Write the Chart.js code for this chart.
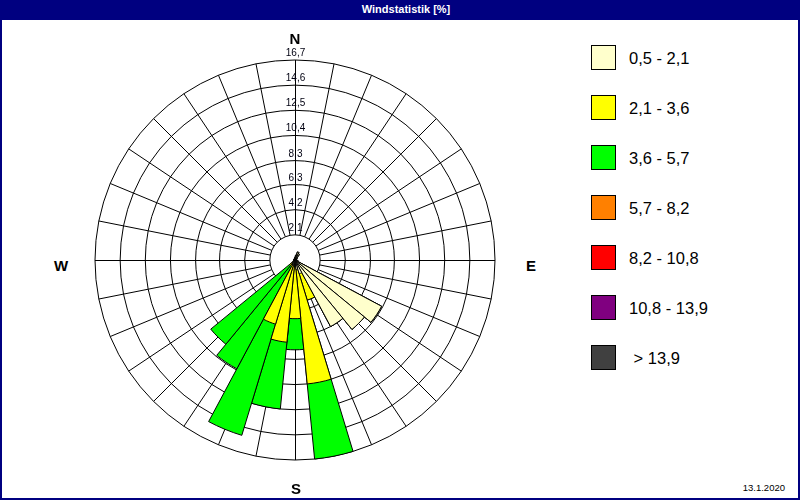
<!DOCTYPE html>
<html>
<head>
<meta charset="utf-8">
<script src="https://cdn.jsdelivr.net/npm/chart.js@4.4.1/dist/chart.umd.min.js"></script>
<style>
  html, body { margin: 0; padding: 0; background: #fff; }
  body { position: relative; width: 800px; height: 500px; overflow: hidden; font-family: "Liberation Sans", Arial, sans-serif; }
  #frame { position: absolute; left: 0; top: 0; width: 796px; height: 478px; border: 2px solid #000080; border-top: 20px solid #000080; background: #fff; }
  #title { position: absolute; left: 0; top: 0; width: 800px; height: 20px; line-height: 19px; color: #fff; font-weight: bold; font-size: 11px; text-align: center; padding-left: 12px; box-sizing: border-box; }
  #chartCanvas { position: absolute; left: 85px; top: 50px; }
  .tick { position: absolute; font-size: 10px; line-height: 11px; color: #000011; transform: translateX(-50%); white-space: nowrap; }
  .dir { position: absolute; font-size: 15px; font-weight: bold; line-height: 17px; color: #000; transform: translate(-50%, -50%); }
  .leg-box { position: absolute; width: 23px; height: 23px; border: 1px solid #000; }
  .leg-text { position: absolute; font-size: 16.5px; line-height: 20px; color: #000; white-space: pre; }
  #date { position: absolute; right: 15px; top: 482px; font-size: 9.5px; line-height: 12px; color: #000; }
</style>
</head>
<body>
<div id="frame"></div>
<div id="title">Windstatistik [%]</div>
<canvas id="chartCanvas" width="420" height="420"></canvas>
<div id="date">13.1.2020</div>
<script>
// 32 wind directions (clockwise from north)
const directions = ['N','NzO','NNO','NOzN','NO','NOzO','ONO','OzN','O','OzS','OSO','SOzO','SO','SOzS','SSO','SzO',
                    'S','SzW','SSW','SWzS','SW','SWzW','WSW','WzS','W','WzN','WNW','NWzW','NW','NWzN','NNW','NzW'];

// Wind speed classes (legend)
const classLabels = ['0,5 - 2,1', '2,1 - 3,6', '3,6 - 5,7', '5,7 - 8,2', '8,2 - 10,8', '10,8 - 13,9', ' > 13,9'];
const classColors = ['#FFFFCC', '#FFFF00', '#00FF00', '#FF8000', '#FF0000', '#800080', '#404040'];

// Frequencies [%] per direction for each speed class
const freq_05_21 = [0.2,0.4,0.7,0.6,0.3,0.2,0.1,0.1, 0.1,0.2,0.3,8.2,7.5,6.3,1.2,0.8, 0.5,0.5,0.4,0.3,0.3,0.2,0.1,0.1, 0.1,0.1,0.1,0.1,0.1,0.1,0.1,0.1];
const freq_21_36 = [0,0,0,0,0,0,0,0, 0,0,0,0,0,0,2.3,9.6, 4.4,6.4,5.2,0.3,0.3,0,0,0, 0,0,0,0,0,0,0,0];
const freq_36_57 = [0,0,0,0,0,0,0,0, 0,0,0,0,0,0,0,6.3, 2.6,5.6,9.7,9.7,8.5,0,0,0, 0,0,0,0,0,0,0,0];
const freq_57_82   = new Array(32).fill(0);
const freq_82_108  = new Array(32).fill(0);
const freq_108_139 = new Array(32).fill(0);
const freq_gt_139  = new Array(32).fill(0);

// Radial axis
const tickValues = [0, 2.1, 4.2, 6.3, 8.3, 10.4, 12.5, 14.6, 16.7];
const tickLabels = ['0', '2,1', '4,2', '6,3', '8,3', '10,4', '12,5', '14,6', '16,7'];
const compass = ['N', 'E', 'S', 'W'];

// cumulative stacks (drawn as overlapping polar sectors)
const series = [freq_05_21, freq_21_36, freq_36_57];
const cumulative = [];
series.forEach((s, i) => {
  cumulative.push(s.map((v, k) => +(v + (i > 0 ? cumulative[i - 1][k] : 0)).toFixed(3)));
});

const spokePlugin = {
  id: 'spokes',
  beforeDatasetsDraw(chart) {
    const s = chart.scales.r;
    const ctx = chart.ctx;
    const r0 = s.getDistanceFromCenterForValue(tickValues[1]);
    const r1 = s.getDistanceFromCenterForValue(tickValues[tickValues.length - 1]);
    ctx.save();
    ctx.strokeStyle = '#000';
    ctx.lineWidth = 1;
    ctx.beginPath();
    const n = directions.length;
    for (let k = 0; k < n; k++) {
      const a = k * 2 * Math.PI / n;
      const sx = Math.sin(a), cy = -Math.cos(a);
      const ox = Math.abs(sx) < 1e-9 ? 0.5 : 0;
      const oy = Math.abs(cy) < 1e-9 ? 0.5 : 0;
      ctx.moveTo(s.xCenter + r0 * sx + ox, s.yCenter + r0 * cy + oy);
      ctx.lineTo(s.xCenter + r1 * sx + ox, s.yCenter + r1 * cy + oy);
    }
    ctx.stroke();
    ctx.restore();
  }
};

const chart = new Chart(document.getElementById('chartCanvas'), {
  type: 'polarArea',
  data: {
    labels: directions,
    datasets: cumulative.map((d, i) => ({
      label: classLabels[i],
      data: d,
      backgroundColor: classColors[i],
      borderColor: '#000',
      borderWidth: 1
    }))
  },
  options: {
    responsive: false,
    animation: false,
    layout: { padding: 10 },
    plugins: { legend: { display: false }, tooltip: { enabled: false } },
    scales: {
      r: {
        min: 0,
        max: 16.7,
        startAngle: -180 / directions.length,
        afterBuildTicks: (s) => { s.ticks = tickValues.map(v => ({ value: v })); },
        ticks: { display: false, callback: (v, i) => tickLabels[i] },
        grid: { circular: true, color: '#000', lineWidth: 1 },
        angleLines: { display: false },
        pointLabels: { display: false }
      }
    }
  },
  plugins: [spokePlugin]
});

// DOM text: tick labels, compass letters, legend
const offX = 85, offY = 50;
const sc = chart.scales.r;
const cx = offX + sc.xCenter, cyc = offY + sc.yCenter;
tickValues.forEach((v, i) => {
  if (i === 0) return;
  const r = sc.getDistanceFromCenterForValue(v);
  const d = document.createElement('div');
  d.className = 'tick';
  d.textContent = tickLabels[i];
  d.style.left = (cx + 0.5) + 'px';
  d.style.top = (cyc - r - 13) + 'px';
  document.body.appendChild(d);
});
const R = sc.getDistanceFromCenterForValue(tickValues[tickValues.length - 1]);
const compassPos = [[0, -R - 22], [R + 36, 5], [1, R + 28], [-R - 34, 5]];
compass.forEach((t, i) => {
  const d = document.createElement('div');
  d.className = 'dir';
  d.textContent = t;
  d.style.left = (cx + compassPos[i][0]) + 'px';
  d.style.top = (cyc + compassPos[i][1]) + 'px';
  document.body.appendChild(d);
});
classLabels.forEach((t, i) => {
  const b = document.createElement('div');
  b.className = 'leg-box';
  b.style.left = '591px';
  b.style.top = (45 + i * 50) + 'px';
  b.style.background = classColors[i];
  document.body.appendChild(b);
  const tx = document.createElement('div');
  tx.className = 'leg-text';
  tx.textContent = t;
  tx.style.left = '629px';
  tx.style.top = (47.5 + i * 50) + 'px';
  document.body.appendChild(tx);
});
</script>
</body>
</html>
